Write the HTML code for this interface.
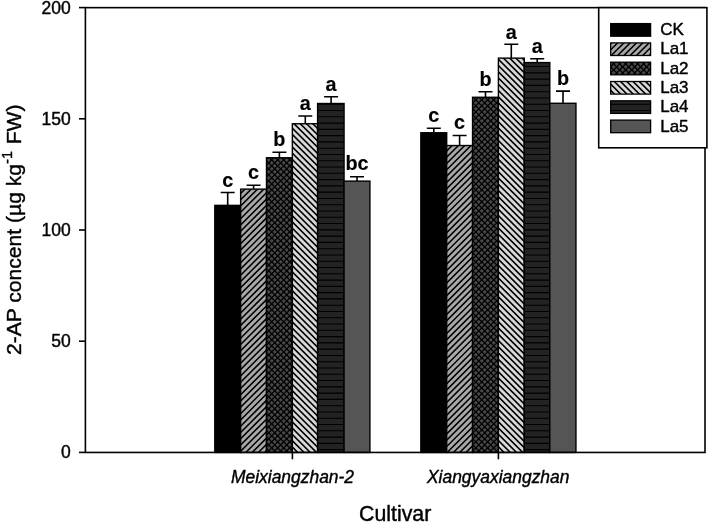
<!DOCTYPE html>
<html><head><meta charset="utf-8"><title>chart</title>
<style>
html,body{margin:0;padding:0;background:#fff;}
body{width:708px;height:523px;overflow:hidden;font-family:"Liberation Sans",sans-serif;}
text{stroke:#000;stroke-width:0.4px;stroke-linejoin:round;}
text.b{font-weight:bold;stroke-width:0.15px;}
svg{display:block;will-change:transform;font-family:"Liberation Sans",sans-serif;}
</style></head><body>
<svg width="708" height="523" viewBox="0 0 708 523">
<defs>
</defs>
<rect width="708" height="523" fill="#fff"/>

<path d="M227.7 205.4V192.5M220.7 192.5H234.7" stroke="#000" stroke-width="1.6" fill="none"/>
<rect x="214.80" y="205.36" width="25.85" height="247.09" fill="#000"/>

<rect x="214.80" y="205.36" width="25.85" height="247.09" fill="none" stroke="#000" stroke-width="1.4"/>
<text x="227.7" y="186.7" font-size="19.8" class="b" text-anchor="middle">c</text>
<path d="M253.6 189.1V185.3M246.6 185.3H260.6" stroke="#000" stroke-width="1.6" fill="none"/>
<rect x="240.65" y="189.13" width="25.85" height="263.32" fill="#a8a8a8"/>
<clipPath id="c2"><rect x="240.65" y="189.13" width="25.85" height="263.32"/></clipPath>
<path clip-path="url(#c2)" d="M239.65 194.43L267.50 166.58M239.65 200.72L267.50 172.87M239.65 207.01L267.50 179.16M239.65 213.30L267.50 185.45M239.65 219.59L267.50 191.74M239.65 225.88L267.50 198.03M239.65 232.17L267.50 204.32M239.65 238.46L267.50 210.61M239.65 244.75L267.50 216.90M239.65 251.04L267.50 223.19M239.65 257.33L267.50 229.48M239.65 263.62L267.50 235.77M239.65 269.91L267.50 242.06M239.65 276.20L267.50 248.35M239.65 282.49L267.50 254.64M239.65 288.78L267.50 260.93M239.65 295.07L267.50 267.22M239.65 301.36L267.50 273.51M239.65 307.65L267.50 279.80M239.65 313.94L267.50 286.09M239.65 320.23L267.50 292.38M239.65 326.52L267.50 298.67M239.65 332.81L267.50 304.96M239.65 339.10L267.50 311.25M239.65 345.39L267.50 317.54M239.65 351.68L267.50 323.83M239.65 357.97L267.50 330.12M239.65 364.26L267.50 336.41M239.65 370.55L267.50 342.70M239.65 376.84L267.50 348.99M239.65 383.13L267.50 355.28M239.65 389.42L267.50 361.57M239.65 395.71L267.50 367.86M239.65 402.00L267.50 374.15M239.65 408.29L267.50 380.44M239.65 414.58L267.50 386.73M239.65 420.87L267.50 393.02M239.65 427.16L267.50 399.31M239.65 433.45L267.50 405.60M239.65 439.74L267.50 411.89M239.65 446.03L267.50 418.18M239.65 452.32L267.50 424.47M239.65 458.61L267.50 430.76M239.65 464.90L267.50 437.05M239.65 471.19L267.50 443.34M239.65 477.48L267.50 449.63" stroke="#000" stroke-width="1.55" fill="none"/>
<rect x="240.65" y="189.13" width="25.85" height="263.32" fill="none" stroke="#000" stroke-width="1.4"/>
<text x="253.6" y="178.9" font-size="19.8" class="b" text-anchor="middle">c</text>
<path d="M279.4 157.8V152.2M272.4 152.2H286.4" stroke="#000" stroke-width="1.6" fill="none"/>
<rect x="266.50" y="157.77" width="25.85" height="294.68" fill="#484848"/>
<clipPath id="c3"><rect x="266.50" y="157.77" width="25.85" height="294.68"/></clipPath>
<path clip-path="url(#c3)" d="M265.50 160.10L293.35 132.25M265.50 166.10L293.35 138.25M265.50 172.10L293.35 144.25M265.50 178.10L293.35 150.25M265.50 184.10L293.35 156.25M265.50 190.10L293.35 162.25M265.50 196.10L293.35 168.25M265.50 202.10L293.35 174.25M265.50 208.10L293.35 180.25M265.50 214.10L293.35 186.25M265.50 220.10L293.35 192.25M265.50 226.10L293.35 198.25M265.50 232.10L293.35 204.25M265.50 238.10L293.35 210.25M265.50 244.10L293.35 216.25M265.50 250.10L293.35 222.25M265.50 256.10L293.35 228.25M265.50 262.10L293.35 234.25M265.50 268.10L293.35 240.25M265.50 274.10L293.35 246.25M265.50 280.10L293.35 252.25M265.50 286.10L293.35 258.25M265.50 292.10L293.35 264.25M265.50 298.10L293.35 270.25M265.50 304.10L293.35 276.25M265.50 310.10L293.35 282.25M265.50 316.10L293.35 288.25M265.50 322.10L293.35 294.25M265.50 328.10L293.35 300.25M265.50 334.10L293.35 306.25M265.50 340.10L293.35 312.25M265.50 346.10L293.35 318.25M265.50 352.10L293.35 324.25M265.50 358.10L293.35 330.25M265.50 364.10L293.35 336.25M265.50 370.10L293.35 342.25M265.50 376.10L293.35 348.25M265.50 382.10L293.35 354.25M265.50 388.10L293.35 360.25M265.50 394.10L293.35 366.25M265.50 400.10L293.35 372.25M265.50 406.10L293.35 378.25M265.50 412.10L293.35 384.25M265.50 418.10L293.35 390.25M265.50 424.10L293.35 396.25M265.50 430.10L293.35 402.25M265.50 436.10L293.35 408.25M265.50 442.10L293.35 414.25M265.50 448.10L293.35 420.25M265.50 454.10L293.35 426.25M265.50 460.10L293.35 432.25M265.50 466.10L293.35 438.25M265.50 472.10L293.35 444.25M265.50 478.10L293.35 450.25M265.50 135.70L293.35 163.55M265.50 141.70L293.35 169.55M265.50 147.70L293.35 175.55M265.50 153.70L293.35 181.55M265.50 159.70L293.35 187.55M265.50 165.70L293.35 193.55M265.50 171.70L293.35 199.55M265.50 177.70L293.35 205.55M265.50 183.70L293.35 211.55M265.50 189.70L293.35 217.55M265.50 195.70L293.35 223.55M265.50 201.70L293.35 229.55M265.50 207.70L293.35 235.55M265.50 213.70L293.35 241.55M265.50 219.70L293.35 247.55M265.50 225.70L293.35 253.55M265.50 231.70L293.35 259.55M265.50 237.70L293.35 265.55M265.50 243.70L293.35 271.55M265.50 249.70L293.35 277.55M265.50 255.70L293.35 283.55M265.50 261.70L293.35 289.55M265.50 267.70L293.35 295.55M265.50 273.70L293.35 301.55M265.50 279.70L293.35 307.55M265.50 285.70L293.35 313.55M265.50 291.70L293.35 319.55M265.50 297.70L293.35 325.55M265.50 303.70L293.35 331.55M265.50 309.70L293.35 337.55M265.50 315.70L293.35 343.55M265.50 321.70L293.35 349.55M265.50 327.70L293.35 355.55M265.50 333.70L293.35 361.55M265.50 339.70L293.35 367.55M265.50 345.70L293.35 373.55M265.50 351.70L293.35 379.55M265.50 357.70L293.35 385.55M265.50 363.70L293.35 391.55M265.50 369.70L293.35 397.55M265.50 375.70L293.35 403.55M265.50 381.70L293.35 409.55M265.50 387.70L293.35 415.55M265.50 393.70L293.35 421.55M265.50 399.70L293.35 427.55M265.50 405.70L293.35 433.55M265.50 411.70L293.35 439.55M265.50 417.70L293.35 445.55M265.50 423.70L293.35 451.55M265.50 429.70L293.35 457.55M265.50 435.70L293.35 463.55M265.50 441.70L293.35 469.55M265.50 447.70L293.35 475.55" stroke="#000" stroke-width="1.3" fill="none"/>
<rect x="266.50" y="157.77" width="25.85" height="294.68" fill="none" stroke="#000" stroke-width="1.4"/>
<text x="279.4" y="146.4" font-size="19.8" class="b" text-anchor="middle">b</text>
<path d="M305.3 123.7V116.0M298.3 116.0H312.3" stroke="#000" stroke-width="1.6" fill="none"/>
<rect x="292.35" y="123.74" width="25.25" height="328.71" fill="#d9d9d9"/>
<clipPath id="c4"><rect x="292.35" y="123.74" width="25.25" height="328.71"/></clipPath>
<path clip-path="url(#c4)" d="M291.35 102.29L318.60 129.54M291.35 108.54L318.60 135.79M291.35 114.79L318.60 142.04M291.35 121.04L318.60 148.29M291.35 127.29L318.60 154.54M291.35 133.54L318.60 160.79M291.35 139.79L318.60 167.04M291.35 146.04L318.60 173.29M291.35 152.29L318.60 179.54M291.35 158.54L318.60 185.79M291.35 164.79L318.60 192.04M291.35 171.04L318.60 198.29M291.35 177.29L318.60 204.54M291.35 183.54L318.60 210.79M291.35 189.79L318.60 217.04M291.35 196.04L318.60 223.29M291.35 202.29L318.60 229.54M291.35 208.54L318.60 235.79M291.35 214.79L318.60 242.04M291.35 221.04L318.60 248.29M291.35 227.29L318.60 254.54M291.35 233.54L318.60 260.79M291.35 239.79L318.60 267.04M291.35 246.04L318.60 273.29M291.35 252.29L318.60 279.54M291.35 258.54L318.60 285.79M291.35 264.79L318.60 292.04M291.35 271.04L318.60 298.29M291.35 277.29L318.60 304.54M291.35 283.54L318.60 310.79M291.35 289.79L318.60 317.04M291.35 296.04L318.60 323.29M291.35 302.29L318.60 329.54M291.35 308.54L318.60 335.79M291.35 314.79L318.60 342.04M291.35 321.04L318.60 348.29M291.35 327.29L318.60 354.54M291.35 333.54L318.60 360.79M291.35 339.79L318.60 367.04M291.35 346.04L318.60 373.29M291.35 352.29L318.60 379.54M291.35 358.54L318.60 385.79M291.35 364.79L318.60 392.04M291.35 371.04L318.60 398.29M291.35 377.29L318.60 404.54M291.35 383.54L318.60 410.79M291.35 389.79L318.60 417.04M291.35 396.04L318.60 423.29M291.35 402.29L318.60 429.54M291.35 408.54L318.60 435.79M291.35 414.79L318.60 442.04M291.35 421.04L318.60 448.29M291.35 427.29L318.60 454.54M291.35 433.54L318.60 460.79M291.35 439.79L318.60 467.04M291.35 446.04L318.60 473.29" stroke="#000" stroke-width="1.6" fill="none"/>
<rect x="292.35" y="123.74" width="25.25" height="328.71" fill="none" stroke="#000" stroke-width="1.4"/>
<text x="305.3" y="110.2" font-size="19.8" class="b" text-anchor="middle">a</text>
<path d="M331.1 103.5V96.8M324.1 96.8H338.1" stroke="#000" stroke-width="1.6" fill="none"/>
<rect x="317.60" y="103.50" width="26.45" height="348.95" fill="#232323"/>
<clipPath id="c5"><rect x="317.60" y="103.50" width="26.45" height="348.95"/></clipPath>
<path clip-path="url(#c5)" d="M316.60 104.24H345.05M316.60 110.52H345.05M316.60 116.80H345.05M316.60 123.08H345.05M316.60 129.36H345.05M316.60 135.64H345.05M316.60 141.92H345.05M316.60 148.20H345.05M316.60 154.48H345.05M316.60 160.76H345.05M316.60 167.04H345.05M316.60 173.32H345.05M316.60 179.60H345.05M316.60 185.88H345.05M316.60 192.16H345.05M316.60 198.44H345.05M316.60 204.72H345.05M316.60 211.00H345.05M316.60 217.28H345.05M316.60 223.56H345.05M316.60 229.84H345.05M316.60 236.12H345.05M316.60 242.40H345.05M316.60 248.68H345.05M316.60 254.96H345.05M316.60 261.24H345.05M316.60 267.52H345.05M316.60 273.80H345.05M316.60 280.08H345.05M316.60 286.36H345.05M316.60 292.64H345.05M316.60 298.92H345.05M316.60 305.20H345.05M316.60 311.48H345.05M316.60 317.76H345.05M316.60 324.04H345.05M316.60 330.32H345.05M316.60 336.60H345.05M316.60 342.88H345.05M316.60 349.16H345.05M316.60 355.44H345.05M316.60 361.72H345.05M316.60 368.00H345.05M316.60 374.28H345.05M316.60 380.56H345.05M316.60 386.84H345.05M316.60 393.12H345.05M316.60 399.40H345.05M316.60 405.68H345.05M316.60 411.96H345.05M316.60 418.24H345.05M316.60 424.52H345.05M316.60 430.80H345.05M316.60 437.08H345.05M316.60 443.36H345.05M316.60 449.64H345.05" stroke="#000" stroke-width="1.1" fill="none"/>
<rect x="317.60" y="103.50" width="26.45" height="348.95" fill="none" stroke="#000" stroke-width="1.4"/>
<text x="331.1" y="91.0" font-size="19.8" class="b" text-anchor="middle">a</text>
<path d="M357.0 181.1V176.7M350.0 176.7H364.0" stroke="#000" stroke-width="1.6" fill="none"/>
<rect x="344.05" y="181.12" width="25.85" height="271.33" fill="#555555"/>

<rect x="344.05" y="181.12" width="25.85" height="271.33" fill="none" stroke="#000" stroke-width="1.4"/>
<text x="357.0" y="170.2" font-size="19.8" class="b" text-anchor="middle">bc</text>
<path d="M433.8 132.8V128.3M426.8 128.3H440.8" stroke="#000" stroke-width="1.6" fill="none"/>
<rect x="420.85" y="132.75" width="25.85" height="319.70" fill="#000"/>

<rect x="420.85" y="132.75" width="25.85" height="319.70" fill="none" stroke="#000" stroke-width="1.4"/>
<text x="433.8" y="122.0" font-size="19.8" class="b" text-anchor="middle">c</text>
<path d="M459.6 145.5V135.5M452.6 135.5H466.6" stroke="#000" stroke-width="1.6" fill="none"/>
<rect x="446.70" y="145.54" width="25.85" height="306.91" fill="#a8a8a8"/>
<clipPath id="c8"><rect x="446.70" y="145.54" width="25.85" height="306.91"/></clipPath>
<path clip-path="url(#c8)" d="M445.70 151.92L473.55 124.07M445.70 158.21L473.55 130.36M445.70 164.50L473.55 136.65M445.70 170.79L473.55 142.94M445.70 177.08L473.55 149.23M445.70 183.37L473.55 155.52M445.70 189.66L473.55 161.81M445.70 195.95L473.55 168.10M445.70 202.24L473.55 174.39M445.70 208.53L473.55 180.68M445.70 214.82L473.55 186.97M445.70 221.11L473.55 193.26M445.70 227.40L473.55 199.55M445.70 233.69L473.55 205.84M445.70 239.98L473.55 212.13M445.70 246.27L473.55 218.42M445.70 252.56L473.55 224.71M445.70 258.85L473.55 231.00M445.70 265.14L473.55 237.29M445.70 271.43L473.55 243.58M445.70 277.72L473.55 249.87M445.70 284.01L473.55 256.16M445.70 290.30L473.55 262.45M445.70 296.59L473.55 268.74M445.70 302.88L473.55 275.03M445.70 309.17L473.55 281.32M445.70 315.46L473.55 287.61M445.70 321.75L473.55 293.90M445.70 328.04L473.55 300.19M445.70 334.33L473.55 306.48M445.70 340.62L473.55 312.77M445.70 346.91L473.55 319.06M445.70 353.20L473.55 325.35M445.70 359.49L473.55 331.64M445.70 365.78L473.55 337.93M445.70 372.07L473.55 344.22M445.70 378.36L473.55 350.51M445.70 384.65L473.55 356.80M445.70 390.94L473.55 363.09M445.70 397.23L473.55 369.38M445.70 403.52L473.55 375.67M445.70 409.81L473.55 381.96M445.70 416.10L473.55 388.25M445.70 422.39L473.55 394.54M445.70 428.68L473.55 400.83M445.70 434.97L473.55 407.12M445.70 441.26L473.55 413.41M445.70 447.55L473.55 419.70M445.70 453.84L473.55 425.99M445.70 460.13L473.55 432.28M445.70 466.42L473.55 438.57M445.70 472.71L473.55 444.86M445.70 479.00L473.55 451.15" stroke="#000" stroke-width="1.55" fill="none"/>
<rect x="446.70" y="145.54" width="25.85" height="306.91" fill="none" stroke="#000" stroke-width="1.4"/>
<text x="459.6" y="129.3" font-size="19.8" class="b" text-anchor="middle">c</text>
<path d="M485.5 97.3V91.7M478.5 91.7H492.5" stroke="#000" stroke-width="1.6" fill="none"/>
<rect x="472.55" y="97.28" width="25.85" height="355.17" fill="#484848"/>
<clipPath id="c9"><rect x="472.55" y="97.28" width="25.85" height="355.17"/></clipPath>
<path clip-path="url(#c9)" d="M471.55 104.05L499.40 76.20M471.55 110.05L499.40 82.20M471.55 116.05L499.40 88.20M471.55 122.05L499.40 94.20M471.55 128.05L499.40 100.20M471.55 134.05L499.40 106.20M471.55 140.05L499.40 112.20M471.55 146.05L499.40 118.20M471.55 152.05L499.40 124.20M471.55 158.05L499.40 130.20M471.55 164.05L499.40 136.20M471.55 170.05L499.40 142.20M471.55 176.05L499.40 148.20M471.55 182.05L499.40 154.20M471.55 188.05L499.40 160.20M471.55 194.05L499.40 166.20M471.55 200.05L499.40 172.20M471.55 206.05L499.40 178.20M471.55 212.05L499.40 184.20M471.55 218.05L499.40 190.20M471.55 224.05L499.40 196.20M471.55 230.05L499.40 202.20M471.55 236.05L499.40 208.20M471.55 242.05L499.40 214.20M471.55 248.05L499.40 220.20M471.55 254.05L499.40 226.20M471.55 260.05L499.40 232.20M471.55 266.05L499.40 238.20M471.55 272.05L499.40 244.20M471.55 278.05L499.40 250.20M471.55 284.05L499.40 256.20M471.55 290.05L499.40 262.20M471.55 296.05L499.40 268.20M471.55 302.05L499.40 274.20M471.55 308.05L499.40 280.20M471.55 314.05L499.40 286.20M471.55 320.05L499.40 292.20M471.55 326.05L499.40 298.20M471.55 332.05L499.40 304.20M471.55 338.05L499.40 310.20M471.55 344.05L499.40 316.20M471.55 350.05L499.40 322.20M471.55 356.05L499.40 328.20M471.55 362.05L499.40 334.20M471.55 368.05L499.40 340.20M471.55 374.05L499.40 346.20M471.55 380.05L499.40 352.20M471.55 386.05L499.40 358.20M471.55 392.05L499.40 364.20M471.55 398.05L499.40 370.20M471.55 404.05L499.40 376.20M471.55 410.05L499.40 382.20M471.55 416.05L499.40 388.20M471.55 422.05L499.40 394.20M471.55 428.05L499.40 400.20M471.55 434.05L499.40 406.20M471.55 440.05L499.40 412.20M471.55 446.05L499.40 418.20M471.55 452.05L499.40 424.20M471.55 458.05L499.40 430.20M471.55 464.05L499.40 436.20M471.55 470.05L499.40 442.20M471.55 476.05L499.40 448.20M471.55 71.75L499.40 99.60M471.55 77.75L499.40 105.60M471.55 83.75L499.40 111.60M471.55 89.75L499.40 117.60M471.55 95.75L499.40 123.60M471.55 101.75L499.40 129.60M471.55 107.75L499.40 135.60M471.55 113.75L499.40 141.60M471.55 119.75L499.40 147.60M471.55 125.75L499.40 153.60M471.55 131.75L499.40 159.60M471.55 137.75L499.40 165.60M471.55 143.75L499.40 171.60M471.55 149.75L499.40 177.60M471.55 155.75L499.40 183.60M471.55 161.75L499.40 189.60M471.55 167.75L499.40 195.60M471.55 173.75L499.40 201.60M471.55 179.75L499.40 207.60M471.55 185.75L499.40 213.60M471.55 191.75L499.40 219.60M471.55 197.75L499.40 225.60M471.55 203.75L499.40 231.60M471.55 209.75L499.40 237.60M471.55 215.75L499.40 243.60M471.55 221.75L499.40 249.60M471.55 227.75L499.40 255.60M471.55 233.75L499.40 261.60M471.55 239.75L499.40 267.60M471.55 245.75L499.40 273.60M471.55 251.75L499.40 279.60M471.55 257.75L499.40 285.60M471.55 263.75L499.40 291.60M471.55 269.75L499.40 297.60M471.55 275.75L499.40 303.60M471.55 281.75L499.40 309.60M471.55 287.75L499.40 315.60M471.55 293.75L499.40 321.60M471.55 299.75L499.40 327.60M471.55 305.75L499.40 333.60M471.55 311.75L499.40 339.60M471.55 317.75L499.40 345.60M471.55 323.75L499.40 351.60M471.55 329.75L499.40 357.60M471.55 335.75L499.40 363.60M471.55 341.75L499.40 369.60M471.55 347.75L499.40 375.60M471.55 353.75L499.40 381.60M471.55 359.75L499.40 387.60M471.55 365.75L499.40 393.60M471.55 371.75L499.40 399.60M471.55 377.75L499.40 405.60M471.55 383.75L499.40 411.60M471.55 389.75L499.40 417.60M471.55 395.75L499.40 423.60M471.55 401.75L499.40 429.60M471.55 407.75L499.40 435.60M471.55 413.75L499.40 441.60M471.55 419.75L499.40 447.60M471.55 425.75L499.40 453.60M471.55 431.75L499.40 459.60M471.55 437.75L499.40 465.60M471.55 443.75L499.40 471.60M471.55 449.75L499.40 477.60" stroke="#000" stroke-width="1.3" fill="none"/>
<rect x="472.55" y="97.28" width="25.85" height="355.17" fill="none" stroke="#000" stroke-width="1.4"/>
<text x="485.5" y="85.9" font-size="19.8" class="b" text-anchor="middle">b</text>
<path d="M511.3 58.1V44.3M504.3 44.3H518.3" stroke="#000" stroke-width="1.6" fill="none"/>
<rect x="498.40" y="58.13" width="25.85" height="394.32" fill="#d9d9d9"/>
<clipPath id="c10"><rect x="498.40" y="58.13" width="25.85" height="394.32"/></clipPath>
<path clip-path="url(#c10)" d="M497.40 33.34L525.25 61.19M497.40 39.59L525.25 67.44M497.40 45.84L525.25 73.69M497.40 52.09L525.25 79.94M497.40 58.34L525.25 86.19M497.40 64.59L525.25 92.44M497.40 70.84L525.25 98.69M497.40 77.09L525.25 104.94M497.40 83.34L525.25 111.19M497.40 89.59L525.25 117.44M497.40 95.84L525.25 123.69M497.40 102.09L525.25 129.94M497.40 108.34L525.25 136.19M497.40 114.59L525.25 142.44M497.40 120.84L525.25 148.69M497.40 127.09L525.25 154.94M497.40 133.34L525.25 161.19M497.40 139.59L525.25 167.44M497.40 145.84L525.25 173.69M497.40 152.09L525.25 179.94M497.40 158.34L525.25 186.19M497.40 164.59L525.25 192.44M497.40 170.84L525.25 198.69M497.40 177.09L525.25 204.94M497.40 183.34L525.25 211.19M497.40 189.59L525.25 217.44M497.40 195.84L525.25 223.69M497.40 202.09L525.25 229.94M497.40 208.34L525.25 236.19M497.40 214.59L525.25 242.44M497.40 220.84L525.25 248.69M497.40 227.09L525.25 254.94M497.40 233.34L525.25 261.19M497.40 239.59L525.25 267.44M497.40 245.84L525.25 273.69M497.40 252.09L525.25 279.94M497.40 258.34L525.25 286.19M497.40 264.59L525.25 292.44M497.40 270.84L525.25 298.69M497.40 277.09L525.25 304.94M497.40 283.34L525.25 311.19M497.40 289.59L525.25 317.44M497.40 295.84L525.25 323.69M497.40 302.09L525.25 329.94M497.40 308.34L525.25 336.19M497.40 314.59L525.25 342.44M497.40 320.84L525.25 348.69M497.40 327.09L525.25 354.94M497.40 333.34L525.25 361.19M497.40 339.59L525.25 367.44M497.40 345.84L525.25 373.69M497.40 352.09L525.25 379.94M497.40 358.34L525.25 386.19M497.40 364.59L525.25 392.44M497.40 370.84L525.25 398.69M497.40 377.09L525.25 404.94M497.40 383.34L525.25 411.19M497.40 389.59L525.25 417.44M497.40 395.84L525.25 423.69M497.40 402.09L525.25 429.94M497.40 408.34L525.25 436.19M497.40 414.59L525.25 442.44M497.40 420.84L525.25 448.69M497.40 427.09L525.25 454.94M497.40 433.34L525.25 461.19M497.40 439.59L525.25 467.44M497.40 445.84L525.25 473.69" stroke="#000" stroke-width="1.6" fill="none"/>
<rect x="498.40" y="58.13" width="25.85" height="394.32" fill="none" stroke="#000" stroke-width="1.4"/>
<text x="511.3" y="38.8" font-size="19.8" class="b" text-anchor="middle">a</text>
<path d="M537.2 62.6V58.8M530.2 58.8H544.2" stroke="#000" stroke-width="1.6" fill="none"/>
<rect x="524.25" y="62.58" width="25.55" height="389.87" fill="#232323"/>
<clipPath id="c11"><rect x="524.25" y="62.58" width="25.55" height="389.87"/></clipPath>
<path clip-path="url(#c11)" d="M523.25 66.56H550.80M523.25 72.84H550.80M523.25 79.12H550.80M523.25 85.40H550.80M523.25 91.68H550.80M523.25 97.96H550.80M523.25 104.24H550.80M523.25 110.52H550.80M523.25 116.80H550.80M523.25 123.08H550.80M523.25 129.36H550.80M523.25 135.64H550.80M523.25 141.92H550.80M523.25 148.20H550.80M523.25 154.48H550.80M523.25 160.76H550.80M523.25 167.04H550.80M523.25 173.32H550.80M523.25 179.60H550.80M523.25 185.88H550.80M523.25 192.16H550.80M523.25 198.44H550.80M523.25 204.72H550.80M523.25 211.00H550.80M523.25 217.28H550.80M523.25 223.56H550.80M523.25 229.84H550.80M523.25 236.12H550.80M523.25 242.40H550.80M523.25 248.68H550.80M523.25 254.96H550.80M523.25 261.24H550.80M523.25 267.52H550.80M523.25 273.80H550.80M523.25 280.08H550.80M523.25 286.36H550.80M523.25 292.64H550.80M523.25 298.92H550.80M523.25 305.20H550.80M523.25 311.48H550.80M523.25 317.76H550.80M523.25 324.04H550.80M523.25 330.32H550.80M523.25 336.60H550.80M523.25 342.88H550.80M523.25 349.16H550.80M523.25 355.44H550.80M523.25 361.72H550.80M523.25 368.00H550.80M523.25 374.28H550.80M523.25 380.56H550.80M523.25 386.84H550.80M523.25 393.12H550.80M523.25 399.40H550.80M523.25 405.68H550.80M523.25 411.96H550.80M523.25 418.24H550.80M523.25 424.52H550.80M523.25 430.80H550.80M523.25 437.08H550.80M523.25 443.36H550.80M523.25 449.64H550.80" stroke="#000" stroke-width="1.1" fill="none"/>
<rect x="524.25" y="62.58" width="25.55" height="389.87" fill="none" stroke="#000" stroke-width="1.4"/>
<text x="537.2" y="52.5" font-size="19.8" class="b" text-anchor="middle">a</text>
<path d="M563.0 103.3V91.1M556.0 91.1H570.0" stroke="#000" stroke-width="1.6" fill="none"/>
<rect x="549.80" y="103.28" width="26.15" height="349.17" fill="#555555"/>

<rect x="549.80" y="103.28" width="26.15" height="349.17" fill="none" stroke="#000" stroke-width="1.4"/>
<text x="563.0" y="85.0" font-size="19.8" class="b" text-anchor="middle">b</text>
<rect x="85.4" y="7.65" width="619.6" height="444.8" fill="none" stroke="#000" stroke-width="1.6"/>
<path d="M79 452.4H85.4" stroke="#000" stroke-width="1.6"/>
<text x="70.7" y="458.4" font-size="17.5" text-anchor="end">0</text>
<path d="M79 341.2H85.4" stroke="#000" stroke-width="1.6"/>
<text x="70.7" y="347.2" font-size="17.5" text-anchor="end">50</text>
<path d="M79 230.0H85.4" stroke="#000" stroke-width="1.6"/>
<text x="70.7" y="236.0" font-size="17.5" text-anchor="end">100</text>
<path d="M79 118.8H85.4" stroke="#000" stroke-width="1.6"/>
<text x="70.7" y="124.8" font-size="17.5" text-anchor="end">150</text>
<path d="M79 7.6H85.4" stroke="#000" stroke-width="1.6"/>
<text x="70.7" y="13.6" font-size="17.5" text-anchor="end">200</text>
<path d="M292.4 452.45V459.3" stroke="#000" stroke-width="1.6"/>
<path d="M498.4 452.45V459.3" stroke="#000" stroke-width="1.6"/>
<text x="292.5" y="482.7" font-size="17.45" font-style="italic" text-anchor="middle">Meixiangzhan-2</text>
<text x="498.2" y="482.7" font-size="17.45" font-style="italic" text-anchor="middle">Xiangyaxiangzhan</text>
<text x="395.2" y="521.3" font-size="21.3" text-anchor="middle">Cultivar</text>
<text transform="translate(20.8,229.8) rotate(-90)" font-size="21.1" text-anchor="middle">2-AP concent (µg kg<tspan font-size="14.5" dy="-9.1">-1</tspan><tspan dy="9.1" dx="0.8"> FW)</tspan></text>
<rect x="598.7" y="7.65" width="108.19999999999993" height="140.15" fill="#fff" stroke="#000" stroke-width="1.6"/>
<rect x="610.7" y="23.6" width="39.9" height="12.6" fill="#000"/>

<rect x="610.7" y="23.6" width="39.9" height="12.6" fill="none" stroke="#000" stroke-width="1.3"/>
<text x="660.2" y="35.1" font-size="17">CK</text>
<rect x="610.7" y="42.9" width="39.9" height="12.6" fill="#a8a8a8"/>
<clipPath id="c14"><rect x="610.70" y="42.90" width="39.90" height="12.60"/></clipPath>
<path clip-path="url(#c14)" d="M609.70 44.53L651.60 2.63M609.70 50.82L651.60 8.92M609.70 57.11L651.60 15.21M609.70 63.40L651.60 21.50M609.70 69.69L651.60 27.79M609.70 75.98L651.60 34.08M609.70 82.27L651.60 40.37M609.70 88.56L651.60 46.66M609.70 94.85L651.60 52.95" stroke="#000" stroke-width="1.55" fill="none"/>
<rect x="610.7" y="42.9" width="39.9" height="12.6" fill="none" stroke="#000" stroke-width="1.3"/>
<text x="660.2" y="54.4" font-size="17">La1</text>
<rect x="610.7" y="62.2" width="39.9" height="12.6" fill="#484848"/>
<clipPath id="c15"><rect x="610.70" y="62.20" width="39.90" height="12.60"/></clipPath>
<path clip-path="url(#c15)" d="M609.70 67.90L651.60 26.00M609.70 73.90L651.60 32.00M609.70 79.90L651.60 38.00M609.70 85.90L651.60 44.00M609.70 91.90L651.60 50.00M609.70 97.90L651.60 56.00M609.70 103.90L651.60 62.00M609.70 109.90L651.60 68.00M609.70 23.90L651.60 65.80M609.70 29.90L651.60 71.80M609.70 35.90L651.60 77.80M609.70 41.90L651.60 83.80M609.70 47.90L651.60 89.80M609.70 53.90L651.60 95.80M609.70 59.90L651.60 101.80M609.70 65.90L651.60 107.80M609.70 71.90L651.60 113.80" stroke="#000" stroke-width="1.3" fill="none"/>
<rect x="610.7" y="62.2" width="39.9" height="12.6" fill="none" stroke="#000" stroke-width="1.3"/>
<text x="660.2" y="73.7" font-size="17">La2</text>
<rect x="610.7" y="81.5" width="39.9" height="12.6" fill="#d9d9d9"/>
<clipPath id="c16"><rect x="610.70" y="81.50" width="39.90" height="12.60"/></clipPath>
<path clip-path="url(#c16)" d="M609.70 45.64L651.60 87.54M609.70 51.89L651.60 93.79M609.70 58.14L651.60 100.04M609.70 64.39L651.60 106.29M609.70 70.64L651.60 112.54M609.70 76.89L651.60 118.79M609.70 83.14L651.60 125.04M609.70 89.39L651.60 131.29" stroke="#000" stroke-width="1.6" fill="none"/>
<rect x="610.7" y="81.5" width="39.9" height="12.6" fill="none" stroke="#000" stroke-width="1.3"/>
<text x="660.2" y="93.0" font-size="17">La3</text>
<rect x="610.7" y="100.8" width="39.9" height="12.6" fill="#232323"/>
<clipPath id="c17"><rect x="610.70" y="100.80" width="39.90" height="12.60"/></clipPath>
<path clip-path="url(#c17)" d="M609.70 104.24H651.60M609.70 110.52H651.60" stroke="#000" stroke-width="1.1" fill="none"/>
<rect x="610.7" y="100.8" width="39.9" height="12.6" fill="none" stroke="#000" stroke-width="1.3"/>
<text x="660.2" y="112.3" font-size="17">La4</text>
<rect x="610.7" y="120.1" width="39.9" height="12.6" fill="#555555"/>

<rect x="610.7" y="120.1" width="39.9" height="12.6" fill="none" stroke="#000" stroke-width="1.3"/>
<text x="660.2" y="131.6" font-size="17">La5</text>
</svg></body></html>
